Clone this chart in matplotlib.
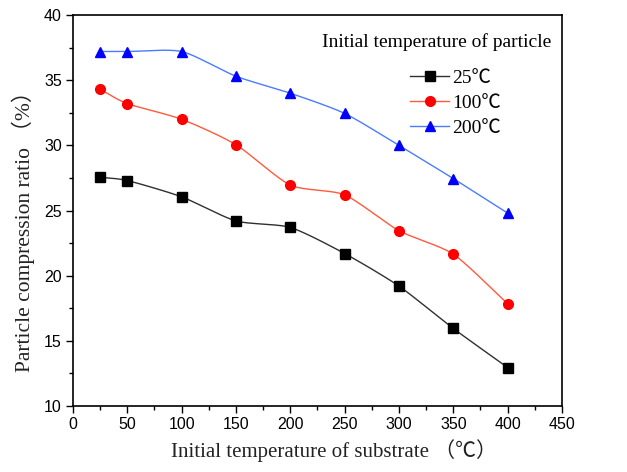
import numpy as np
import matplotlib
matplotlib.use('Agg')
import matplotlib.pyplot as plt
from matplotlib.ticker import MultipleLocator

substrate_temp = [25, 50, 100, 150, 200, 250, 300, 350, 400]
ratio_25 = [27.55, 27.3, 26.05, 24.2, 23.7, 21.7, 19.2, 15.95, 12.95]
ratio_100 = [34.3, 33.2, 32.0, 30.05, 26.95, 26.2, 23.45, 21.65, 17.85]
ratio_200 = [37.2, 37.2, 37.2, 35.3, 34.0, 32.45, 30.0, 27.45, 24.8]
series_labels = ['25\u2103', '100\u2103', '200\u2103']

serif = ['Liberation Serif', 'Noto Sans CJK SC']


def smooth(x, y, n=20, k=0.35):
    # cardinal spline through the points (Origin-style smooth line)
    x = np.asarray(x, float)
    y = np.asarray(y, float)
    px = np.concatenate([[2 * x[0] - x[1]], x, [2 * x[-1] - x[-2]]])
    py = np.concatenate([[2 * y[0] - y[1]], y, [2 * y[-1] - y[-2]]])
    t = np.linspace(0, 1, n, endpoint=False)
    h00 = 2 * t ** 3 - 3 * t ** 2 + 1
    h10 = t ** 3 - 2 * t ** 2 + t
    h01 = -2 * t ** 3 + 3 * t ** 2
    h11 = t ** 3 - t ** 2
    xs, ys = [], []
    for i in range(1, len(px) - 2):
        for p, out in ((px, xs), (py, ys)):
            m1 = k * (p[i + 1] - p[i - 1])
            m2 = k * (p[i + 2] - p[i])
            out.extend(h00 * p[i] + h10 * m1 + h01 * p[i + 1] + h11 * m2)
    xs.append(x[-1])
    ys.append(y[-1])
    return np.array(xs), np.array(ys)


fig = plt.figure(figsize=(6.27, 4.72), dpi=100)
ax = fig.add_axes([0.1164, 0.1398, 0.7799, 0.8284])

styles = [('black', '#303030', 's'), ('red', '#ff5a3c', 'o'), ('blue', '#4a7cff', '^')]
handles = []
for ys, lab, (mc, lc, mk) in zip([ratio_25, ratio_100, ratio_200], series_labels, styles):
    sx, sy = smooth(substrate_temp, ys)
    ax.plot(sx, sy, color=lc, lw=1.0, zorder=2)
    ax.plot(substrate_temp, ys, linestyle='none', marker=mk, color=mc, ms=7, zorder=3)
    h, = ax.plot([], [], color=lc, lw=1.0, marker=mk, mfc=mc, mec=mc, ms=7, label=lab)
    handles.append(h)

ax.set_xlim(0, 450)
ax.set_ylim(10, 40)
ax.xaxis.set_major_locator(MultipleLocator(50))
ax.xaxis.set_minor_locator(MultipleLocator(25))
ax.yaxis.set_major_locator(MultipleLocator(5))
ax.yaxis.set_minor_locator(MultipleLocator(2.5))
ax.tick_params(which='both', direction='out', top=False, right=False, width=1.0)
ax.tick_params(which='major', length=5, labelsize=11.5, pad=3)
ax.tick_params(which='minor', length=3)
for lbl in ax.get_xticklabels() + ax.get_yticklabels():
    lbl.set_family('Liberation Sans')
for s in ax.spines.values():
    s.set_linewidth(1.2)

ax.set_xlabel('Initial temperature of substrate \uff08\u2103\uff09', family=serif, fontsize=15,
              color='#222222')
ax.set_ylabel('Particle compression ratio \uff08%\uff09', family=serif, fontsize=15.5,
              color='#222222')
ax.xaxis.set_label_coords(0.534, -0.085)
ax.yaxis.set_label_coords(-0.078, 0.46)

ax.text(0.509, 0.932, 'Initial temperature of particle', transform=ax.transAxes,
        family=serif, fontsize=14, va='center', ha='left')
leg = ax.legend(handles=handles, loc='upper left', bbox_to_anchor=(0.654, 0.905),
                frameon=False, prop={'family': serif, 'size': 14},
                handlelength=2.0, handletextpad=0.15, labelspacing=0.38)

fig.savefig('out.png', dpi=100)
